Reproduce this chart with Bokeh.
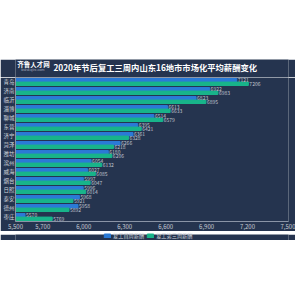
from bokeh.plotting import figure
from bokeh.models import (ColumnDataSource, FactorRange, FixedTicker, NumeralTickFormatter,
                          Legend, LegendItem, Spacer, Range1d)
from bokeh.layouts import column
from bokeh.transform import dodge
from bokeh.embed import file_html
from bokeh.resources import INLINE
from bokeh.core.properties import value

cities = ["青岛", "济南", "临沂", "淄博", "聊城", "东营", "济宁", "菏泽",
          "潍坊", "滨州", "威海", "烟台", "日照", "泰安", "德州", "枣庄"]
first_week = [7121, 6922, 6823, 6613, 6514, 6395, 6361, 6266,
              6180, 6054, 6027, 5997, 5996, 5968, 5958, 5570]
third_week = [7206, 6983, 6895, 6633, 6579, 6421, 6328, 6218,
              6206, 6132, 6085, 6047, 6014, 5921, 5892, 5769]
x_ticks = [5500, 5700, 6000, 6300, 6600, 6900, 7200, 7500]
series_names = ["复工首周薪酬", "复工第三周薪酬"]
title_text = "2020年节后复工三周内山东16地市市场化平均薪酬变化"
logo_text = "齐鲁人才网"
logo_url = "www.qlrc.com"

BG = "#25344f"
BLUE = "#2b7ad6"
GREEN = "#18b48a"
FONT = "Noto Sans CJK SC"


def bare(height):
    f = figure(width=295, height=height, x_range=Range1d(0, 295), y_range=Range1d(0, height),
               output_backend="svg", toolbar_location=None,
               min_border_left=0, min_border_right=0, min_border_top=0, min_border_bottom=0,
               background_fill_color=BG, border_fill_color=BG,
               outline_line_color=BG, outline_line_alpha=0)
    f.axis.visible = False
    f.grid.visible = False
    return f


# header strip: logo + title
head = bare(18)
head.text(x=[151], y=[11], text=[title_text], text_align="center", text_baseline="middle",
          text_color="white", text_font_size="8.3px", text_font_style="bold",
          text_font=value(FONT))
head.text(x=[2], y=[14], text=[logo_text], text_baseline="middle", text_color="white",
          text_font_size="6.5px", text_font_style="bold", text_font=value(FONT))
head.text(x=[6], y=[8], text=[logo_url], text_baseline="middle", text_color="#aeb6c4",
          text_font_size="3.5px", text_font=value(FONT))

# main chart
src = ColumnDataSource(dict(city=cities, w1=first_week, w3=third_week,
                            w1s=[str(v) for v in first_week],
                            w3s=[str(v) for v in third_week]))

p = figure(width=295, height=154, y_range=FactorRange(*reversed(cities)),
           x_range=Range1d(5500, 7500), output_backend="svg", toolbar_location=None,
           min_border_left=0, min_border_right=7, min_border_top=0, min_border_bottom=0,
           background_fill_color=BG, border_fill_color=BG,
           outline_line_color=BG, outline_line_alpha=0)

p.hbar(y=dodge("city", 0.2, range=p.y_range), left=5500, right="w1", height=0.38,
       source=src, color=BLUE)
p.hbar(y=dodge("city", -0.2, range=p.y_range), left=5500, right="w3", height=0.38,
       source=src, color=GREEN)

p.text(x="w1", y=dodge("city", 0.2, range=p.y_range), text="w1s", source=src, x_offset=1,
       text_font_size="5px", text_baseline="middle", text_color="#c0c5cf",
       text_font=value(FONT))
p.text(x="w3", y=dodge("city", -0.2, range=p.y_range), text="w3s", source=src, x_offset=1,
       text_font_size="5px", text_baseline="middle", text_color="#c0c5cf",
       text_font=value(FONT))

p.xgrid.grid_line_color = None
p.ygrid.grid_line_color = None

p.xaxis.ticker = FixedTicker(ticks=x_ticks)
p.xaxis.formatter = NumeralTickFormatter(format="0,0")
p.xaxis.major_label_text_font_size = "6px"
p.xaxis.major_label_text_color = "#c8ccd4"
p.xaxis.major_label_text_font = FONT
p.xaxis.axis_line_color = "#8a94a6"
p.xaxis.major_tick_line_color = None
p.xaxis.minor_tick_line_color = None
p.xaxis.major_tick_out = 0
p.xaxis.major_tick_in = 0
p.xaxis.minor_tick_out = 0
p.xaxis.major_label_standoff = 2

p.yaxis.major_label_text_font_size = "5.5px"
p.yaxis.major_label_text_color = "#d0d4dc"
p.yaxis.major_label_text_font = FONT
p.yaxis.axis_line_color = "#8a94a6"
p.yaxis.major_tick_line_color = None
p.yaxis.minor_tick_line_color = None
p.yaxis.major_tick_out = 0
p.yaxis.major_tick_in = 0
p.yaxis.minor_tick_out = 0
p.yaxis.major_label_standoff = 1

# legend strip
leg = bare(9)
lr1 = leg.rect(x=[-50], y=[-50], width=1, height=1, fill_color=BLUE, line_color=BLUE)
lr2 = leg.rect(x=[-50], y=[-50], width=1, height=1, fill_color=GREEN, line_color=GREEN)
legend = Legend(items=[LegendItem(label=series_names[0], renderers=[lr1]),
                       LegendItem(label=series_names[1], renderers=[lr2])],
                orientation="horizontal", location=(88, 1),
                background_fill_alpha=0, border_line_color=None,
                label_text_color="#d0d4dc", label_text_font_size="5.2px", label_text_font=FONT,
                glyph_width=8, glyph_height=5, label_standoff=2, spacing=2,
                padding=0, margin=0, label_height=6)
leg.add_layout(legend)

layout = column(Spacer(width=295, height=59), head, p, leg, Spacer(width=295, height=55),
                spacing=0)

open("out.html", "w").write(file_html(layout, INLINE))
